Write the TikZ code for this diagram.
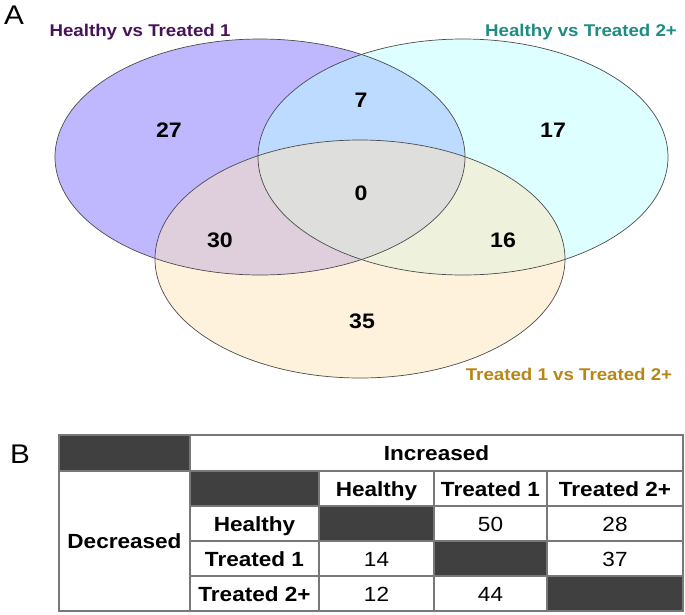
\documentclass[tikz,border=0pt]{standalone}
\usepackage{fontspec}
\setmainfont{Liberation Sans}[FakeStretch=1.1]
\usepackage{tikz}
\usetikzlibrary{calc,positioning}

\definecolor{setone}{RGB}{128,113,255}
\definecolor{settwo}{RGB}{187,255,255}
\definecolor{setthree}{RGB}{255,229,185}
\definecolor{labone}{RGB}{72,18,88}
\definecolor{labtwo}{RGB}{30,140,130}
\definecolor{labthree}{RGB}{184,134,20}
\definecolor{cellgray}{RGB}{64,64,64}
\definecolor{gridgray}{RGB}{120,120,120}

\begin{document}
\begin{tikzpicture}[x=1pt, y=-1pt]
  \useasboundingbox (0,0) rectangle (685,614);

  % --- Styles ---
  \tikzset{
    venn fill/.style={fill opacity=0.5},
    venn edge/.style={draw=black!70, line width=0.7pt},
    set label/.style={font=\bfseries\fontsize{17}{17}\selectfont, anchor=base, inner sep=0pt},
    count/.style={font=\bfseries\fontsize{21}{21}\selectfont, anchor=base, inner sep=0pt},
    panel/.style={font=\fontsize{27}{27}\selectfont, anchor=base, inner sep=0pt},
    head/.style={font=\bfseries\fontsize{20.5}{20.5}\selectfont, anchor=base, inner sep=0pt},
    entry/.style={font=\fontsize{20.5}{20.5}\selectfont, anchor=base, inner sep=0pt},
    dark cell/.style={fill=cellgray},
    grid line/.style={draw=gridgray, line width=1.1pt}
  }

  % --- Panel A: Venn diagram ---
  \coordinate (C1) at (260,157);
  \coordinate (C2) at (463,157);
  \coordinate (C3) at (360,259);

  % fills first, so that all outlines stay on top
  \fill[venn fill, setone] (C1) ellipse [x radius=205, y radius=118];
  \fill[venn fill, settwo] (C2) ellipse [x radius=205, y radius=118];
  \fill[venn fill, setthree] (C3) ellipse [x radius=205, y radius=119];

  \draw[venn edge] (C1) ellipse [x radius=205, y radius=118];
  \draw[venn edge] (C2) ellipse [x radius=205, y radius=118];
  \draw[venn edge] (C3) ellipse [x radius=205, y radius=119];

  \node[panel] (panelA) at (14,24) {A};

  \node[set label, labone] (labHT1) at (140,36) {Healthy vs Treated 1};
  \node[set label, labtwo] (labHT2) at (581,36) {Healthy vs Treated 2+};
  \node[set label, labthree] (labT1T2) at (569,380) {Treated 1 vs Treated 2+};

  % region counts
  \node[count] (nOne) at (169,137) {27};
  \node[count] (nOneTwo) at (361,107) {7};
  \node[count] (nTwo) at (553,137) {17};
  \node[count] (nAll) at (361,200) {0};
  \node[count] (nOneThree) at (220,247) {30};
  \node[count] (nTwoThree) at (503,247) {16};
  \node[count] (nThree) at (362,328) {35};

  % --- Panel B: table ---
  \node[panel] (panelB) at (20,463) {B};

  % dark (empty) cells
  \fill[dark cell] (59,435) rectangle (190,471);
  \fill[dark cell] (190,471) rectangle (319,506);
  \fill[dark cell] (319,506) rectangle (434,541);
  \fill[dark cell] (434,541) rectangle (547,576);
  \fill[dark cell] (547,576) rectangle (683,611);

  % grid
  \draw[grid line] (59,435) rectangle (683,611);
  \draw[grid line] (59,471) -- (683,471);
  \draw[grid line] (190,435) -- (190,611);
  \foreach \yy in {506,541,576}
    \draw[grid line] (190,\yy) -- (683,\yy);
  \foreach \xx in {319,434,547}
    \draw[grid line] (\xx,471) -- (\xx,611);

  % headers
  \node[head] (hInc) at (436.5,460.5) {Increased};
  \node[head] (hDec) at (124.5,548.5) {Decreased};
  \node[head] (colH) at (376.5,496) {Healthy};
  \node[head] (colT1) at (490.5,496) {Treated 1};
  \node[head] (colT2) at (615,496) {Treated 2+};
  \node[head] (rowH) at (254.5,531) {Healthy};
  \node[head] (rowT1) at (254.5,566) {Treated 1};
  \node[head] (rowT2) at (254.5,601) {Treated 2+};

  % entries
  \node[entry] (vHT1) at (490.5,531) {50};
  \node[entry] (vHT2) at (615,531) {28};
  \node[entry] (vT1H) at (376.5,566) {14};
  \node[entry] (vT1T2) at (615,566) {37};
  \node[entry] (vT2H) at (376.5,601) {12};
  \node[entry] (vT2T1) at (490.5,601) {44};

\end{tikzpicture}
\end{document}
